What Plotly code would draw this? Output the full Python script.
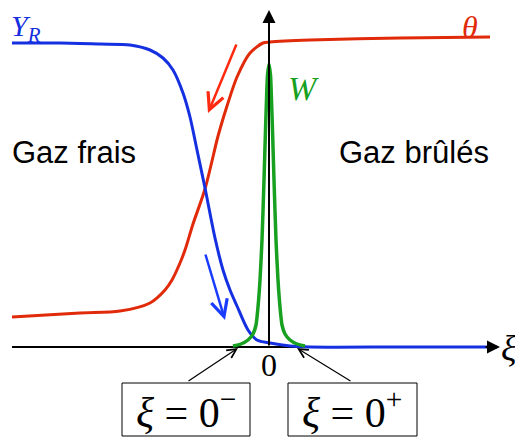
import plotly.graph_objects as go

# Curves (xi relative to the vertical axis, values above the xi axis)
yr_xi = [-257, -209, -169, -139, -119, -106, -96, -86, -79, -72, -64, -54, -46, -39, -32, -21, -12, 1, 21, 41, 131, 228]
yr_val = [304, 304, 303, 302, 297, 289, 277, 254, 230, 197, 159, 109, 77, 57, 41, 17, 7, 4, 1, 0, 0, 0]

theta_xi = [-257, -189, -149, -119, -104, -97, -89, -84, -76, -64, -52, -49, -42, -32, -19, -6, 1, 41, 131, 221]
theta_val = [30, 34, 36, 44, 57, 67, 84, 97, 123, 158, 207, 218, 241, 270, 294, 304, 305, 307, 309, 310]

w_xi = [-36, -28, -21, -16, -13, -11, -9, -7, -5, -3.5, -2.5, -1.5, 0, 1.5, 2.5, 3.5, 5, 7, 9, 11, 13, 16, 21, 28, 36]
w_val = [1, 3, 7, 13, 22, 40, 67, 107, 167, 217, 247, 272, 283, 272, 247, 217, 167, 107, 67, 40, 22, 13, 7, 3, 1]

BLUE = "#1530e0"
RED = "#e02a0a"
GREEN = "#18a020"
SERIF = "Liberation Serif, DejaVu Serif, serif"
SANS = "Liberation Sans, Arial, sans-serif"

fig = go.Figure()
fig.add_trace(go.Scatter(x=theta_xi, y=theta_val, mode="lines",
                         line=dict(color=RED, width=3, shape="spline", smoothing=0.8)))
fig.add_trace(go.Scatter(x=yr_xi, y=yr_val, mode="lines",
                         line=dict(color=BLUE, width=3, shape="spline", smoothing=0.8)))
fig.add_trace(go.Scatter(x=w_xi, y=w_val, mode="lines",
                         line=dict(color=GREEN, width=3.5, shape="spline", smoothing=0.6)))

# horizontal axis (below traces)
fig.add_shape(type="line", x0=-257, x1=226, y0=0, y1=0, line=dict(color="black", width=2), layer="below")
# boxes
fig.add_shape(type="rect", x0=-147, x1=-19, y0=-36, y1=-89, line=dict(color="black", width=1))
fig.add_shape(type="rect", x0=19, x1=148, y0=-36, y1=-89, line=dict(color="black", width=1))

ann = []
# axis arrows
ann.append(dict(x=231, y=0, ax=215, ay=0, axref="x", ayref="y",
                showarrow=True, arrowhead=2, arrowsize=1.3, arrowwidth=2, arrowcolor="black", text=""))
ann.append(dict(x=0, y=337, ax=0, ay=0, axref="x", ayref="y",
                showarrow=True, arrowhead=2, arrowsize=1.3, arrowwidth=2, arrowcolor="black", text=""))
# curve arrows
ann.append(dict(x=-61, y=234, ax=-32, ay=304, axref="x", ayref="y",
                showarrow=True, arrowhead=5, arrowsize=1.3, arrowwidth=2.5, arrowcolor="#ff2a10", text=""))
ann.append(dict(x=-44, y=27, ax=-64, ay=94, axref="x", ayref="y",
                showarrow=True, arrowhead=5, arrowsize=1.3, arrowwidth=2.5, arrowcolor="#1a3cff", text=""))
# box arrows
ann.append(dict(x=-31, y=-1, ax=-82, ay=-35, axref="x", ayref="y",
                showarrow=True, arrowhead=5, arrowsize=1.5, arrowwidth=1.2, arrowcolor="black", text=""))
ann.append(dict(x=28, y=-1, ax=83, ay=-35, axref="x", ayref="y",
                showarrow=True, arrowhead=5, arrowsize=1.5, arrowwidth=1.2, arrowcolor="black", text=""))

# labels
ann.append(dict(x=-259, y=339, xanchor="left", yanchor="top", borderpad=0, showarrow=False,
                text="<i>Y</i><sub><i>R</i></sub>", font=dict(family=SERIF, size=30, color=BLUE)))
ann.append(dict(x=201, y=339, yanchor="top", borderpad=0, showarrow=False, text="<i>θ</i>",
                font=dict(family=SERIF, size=32, color=RED)))
ann.append(dict(x=34, y=259, showarrow=False, text="<i>W</i>",
                font=dict(family=SERIF, size=34, color=GREEN)))
ann.append(dict(x=-259, y=195, xanchor="left", showarrow=False, text="Gaz frais",
                font=dict(family=SANS, size=31, color="black")))
ann.append(dict(x=145, y=195, showarrow=False, text="Gaz brûlés",
                font=dict(family=SANS, size=31, color="black")))
ann.append(dict(x=0, y=-18, showarrow=False, text="0",
                font=dict(family=SERIF, size=32, color="black")))
ann.append(dict(x=240, y=-1, showarrow=False, text="<i>ξ</i>",
                font=dict(family=SERIF, size=36, color="black")))
ann.append(dict(x=-83, y=-62, showarrow=False, text="<i>ξ</i> = 0<sup>−</sup>",
                font=dict(family=SERIF, size=42, color="black")))
ann.append(dict(x=83, y=-62, showarrow=False, text="<i>ξ</i> = 0<sup>+</sup>",
                font=dict(family=SERIF, size=42, color="black")))
for a in ann:
    a.setdefault("xref", "x")
    a.setdefault("yref", "y")

# The page body has an 8px margin: the figure is shrunk by 8px and the ranges start 8px in.
fig.update_layout(
    width=515, height=435,
    margin=dict(l=0, r=0, t=0, b=0, autoexpand=False),
    paper_bgcolor="white", plot_bgcolor="white",
    showlegend=False,
    annotations=ann,
    xaxis=dict(range=[-261, 254], visible=False, fixedrange=True),
    yaxis=dict(range=[-96, 339], visible=False, fixedrange=True),
)
fig.write_html("out.html", config={"displayModeBar": False})
